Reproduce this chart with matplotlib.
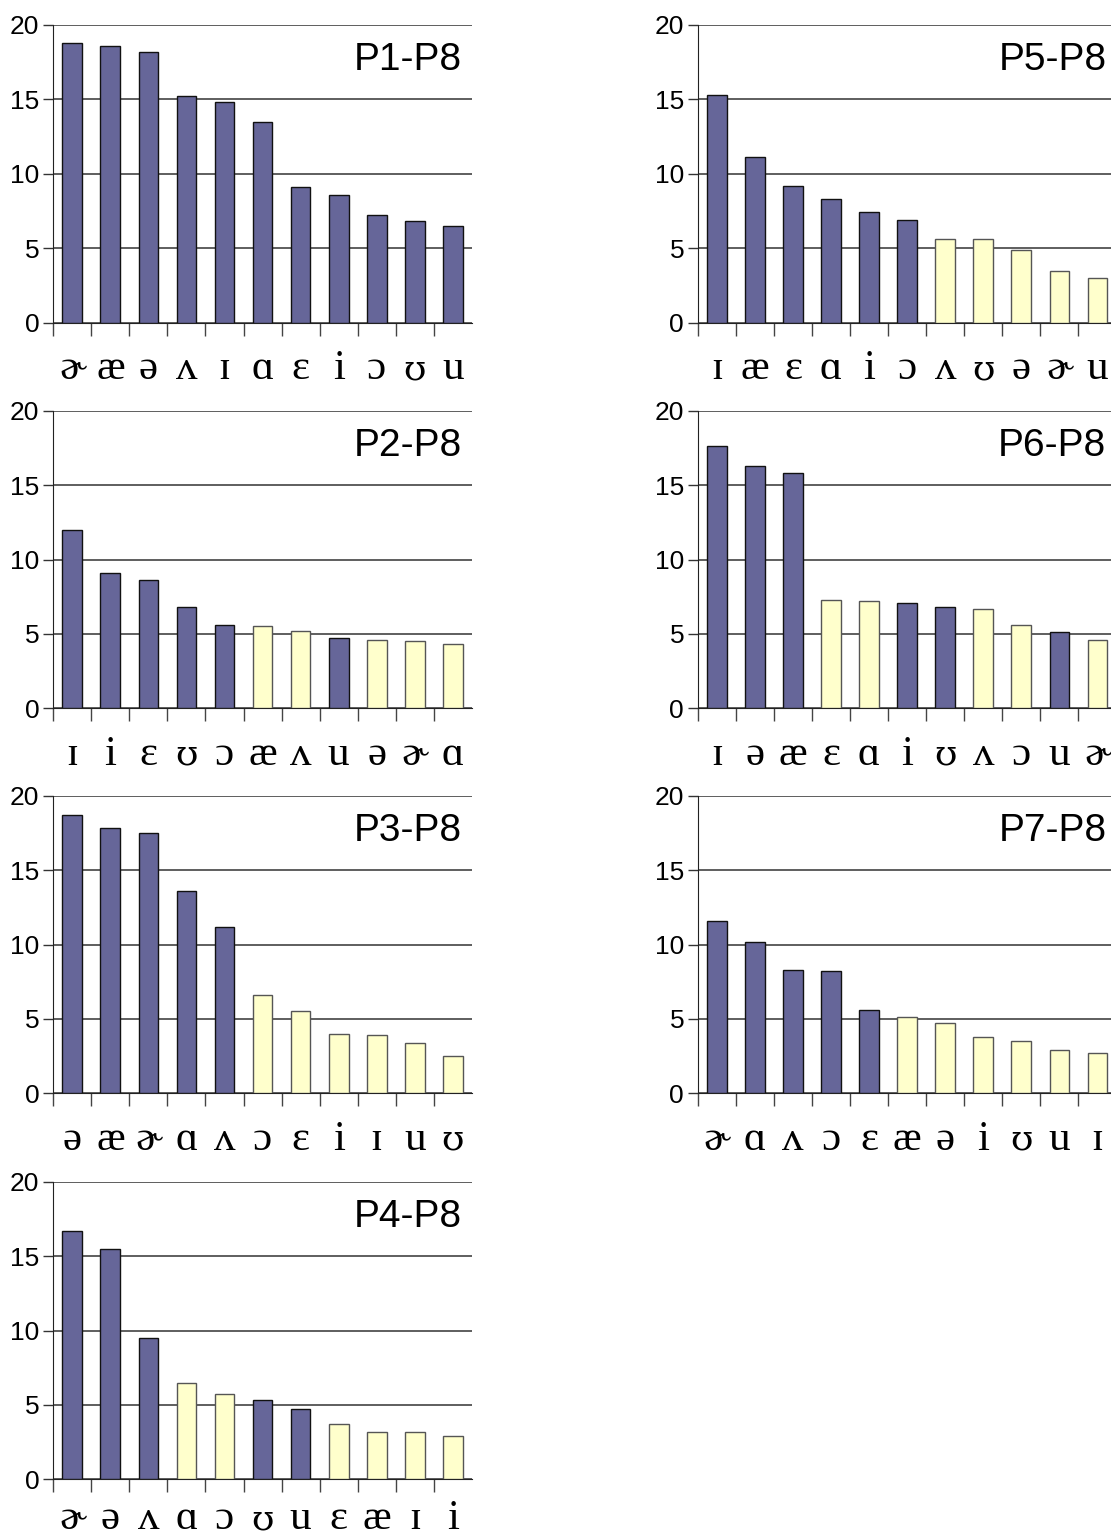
import numpy as np
import matplotlib
matplotlib.use("Agg")
import matplotlib.pyplot as plt
import matplotlib.transforms as mtrans

# data: one list of labels, values and colour groups per panel (P = purple, Y = yellow)
titles = ["P1-P8", "P2-P8", "P3-P8", "P4-P8", "P5-P8", "P6-P8", "P7-P8"]

labels_p1 = ["ɚ", "æ", "ə", "ʌ", "ɪ", "ɑ", "ɛ", "i", "ɔ", "ʊ", "u"]
values_p1 = [18.8, 18.6, 18.2, 15.2, 14.8, 13.5, 9.1, 8.6, 7.2, 6.8, 6.5]
groups_p1 = "PPPPPPPPPPP"

labels_p2 = ["ɪ", "i", "ɛ", "ʊ", "ɔ", "æ", "ʌ", "u", "ə", "ɚ", "ɑ"]
values_p2 = [12.0, 9.1, 8.6, 6.8, 5.6, 5.5, 5.2, 4.7, 4.6, 4.5, 4.3]
groups_p2 = "PPPPPYYPYYY"

labels_p3 = ["ə", "æ", "ɚ", "ɑ", "ʌ", "ɔ", "ɛ", "i", "ɪ", "u", "ʊ"]
values_p3 = [18.7, 17.8, 17.5, 13.6, 11.2, 6.6, 5.5, 4.0, 3.9, 3.4, 2.5]
groups_p3 = "PPPPPYYYYYY"

labels_p4 = ["ɚ", "ə", "ʌ", "ɑ", "ɔ", "ʊ", "u", "ɛ", "æ", "ɪ", "i"]
values_p4 = [16.7, 15.5, 9.5, 6.5, 5.7, 5.3, 4.7, 3.7, 3.2, 3.2, 2.9]
groups_p4 = "PPPYYPPYYYY"

labels_p5 = ["ɪ", "æ", "ɛ", "ɑ", "i", "ɔ", "ʌ", "ʊ", "ə", "ɚ", "u"]
values_p5 = [15.3, 11.1, 9.2, 8.3, 7.4, 6.9, 5.6, 5.6, 4.9, 3.5, 3.0]
groups_p5 = "PPPPPPYYYYY"

labels_p6 = ["ɪ", "ə", "æ", "ɛ", "ɑ", "i", "ʊ", "ʌ", "ɔ", "u", "ɚ"]
values_p6 = [17.6, 16.3, 15.8, 7.3, 7.2, 7.1, 6.8, 6.7, 5.6, 5.1, 4.6]
groups_p6 = "PPPYYPPYYPY"

labels_p7 = ["ɚ", "ɑ", "ʌ", "ɔ", "ɛ", "æ", "ə", "i", "ʊ", "u", "ɪ"]
values_p7 = [11.6, 10.2, 8.3, 8.2, 5.6, 5.1, 4.7, 3.8, 3.5, 2.9, 2.7]
groups_p7 = "PPPPPYYYYYY"

panels = [
    (labels_p1, values_p1, groups_p1),
    (labels_p2, values_p2, groups_p2),
    (labels_p3, values_p3, groups_p3),
    (labels_p4, values_p4, groups_p4),
    (labels_p5, values_p5, groups_p5),
    (labels_p6, values_p6, groups_p6),
    (labels_p7, values_p7, groups_p7),
]

W, H = 1111, 1539
fig = plt.figure(figsize=(W / 100, H / 100), dpi=100)
fig.patch.set_facecolor("white")

fill = {"P": "#666699", "Y": "#ffffcc"}
edge = {"P": "#111111", "Y": "#555555"}

# axes boxes in pixels: left, top(y=20); all same size
lefts = [53.3, 53.3, 53.3, 53.3, 698, 698, 698]
tops = [25, 410.7, 795.7, 1181.7, 25, 410.7, 795.7]
# baseline of the vowel labels below the axis (axes fraction)
label_y = [-0.19, -0.19, -0.19, -0.168, -0.19, -0.19, -0.19]
ax_w = 418.5
ax_h = 297.6

sans = ["Liberation Sans", "DejaVu Sans"]
serif = ["Liberation Serif", "DejaVu Serif"]

for k, (labs, vals, grp) in enumerate(panels):
    l = lefts[k] / W
    b = 1 - (tops[k] + ax_h) / H
    ax = fig.add_axes([l, b, ax_w / W, ax_h / H])
    n = len(vals)
    x = np.arange(n)
    ax.bar(x, vals, width=0.52,
           color=[fill[g] for g in grp],
           edgecolor=[edge[g] for g in grp], linewidth=1.0, zorder=3)
    ax.set_xlim(-0.5, n - 0.5)
    ax.set_ylim(0, 20)
    ax.set_yticks([0, 5, 10, 15, 20])
    ax.yaxis.grid(True, color="#333333", linewidth=1.1, zorder=0)
    ax.set_axisbelow(True)
    for s in ["top", "right"]:
        ax.spines[s].set_visible(False)
    ax.spines["left"].set_color("#222222")
    ax.spines["bottom"].set_color("#222222")
    ax.tick_params(axis="y", direction="out", length=7, width=1,
                   color="#333333", labelsize=19, pad=3)
    for t in ax.get_yticklabels():
        t.set_family(sans)
    # category boundary ticks
    ax.set_xticks(np.arange(n) - 0.5)
    ax.set_xticklabels([])
    ax.tick_params(axis="x", direction="out", length=9, width=1,
                   color="#444444")
    tr = mtrans.blended_transform_factory(ax.transData, ax.transAxes)
    for i, s in enumerate(labs):
        fam = ["DejaVu Serif"] if s == "ʊ" else serif
        fs = 26 if s == "ʊ" else 31
        ax.text(i, label_y[k], s, transform=tr, ha="center", va="baseline",
                fontsize=fs, family=fam, clip_on=False)
    ax.text(0.976, 0.849, titles[k], transform=ax.transAxes, ha="right",
            va="baseline", fontsize=28, family=sans)

fig.savefig("out.png", dpi=100, facecolor="white")
